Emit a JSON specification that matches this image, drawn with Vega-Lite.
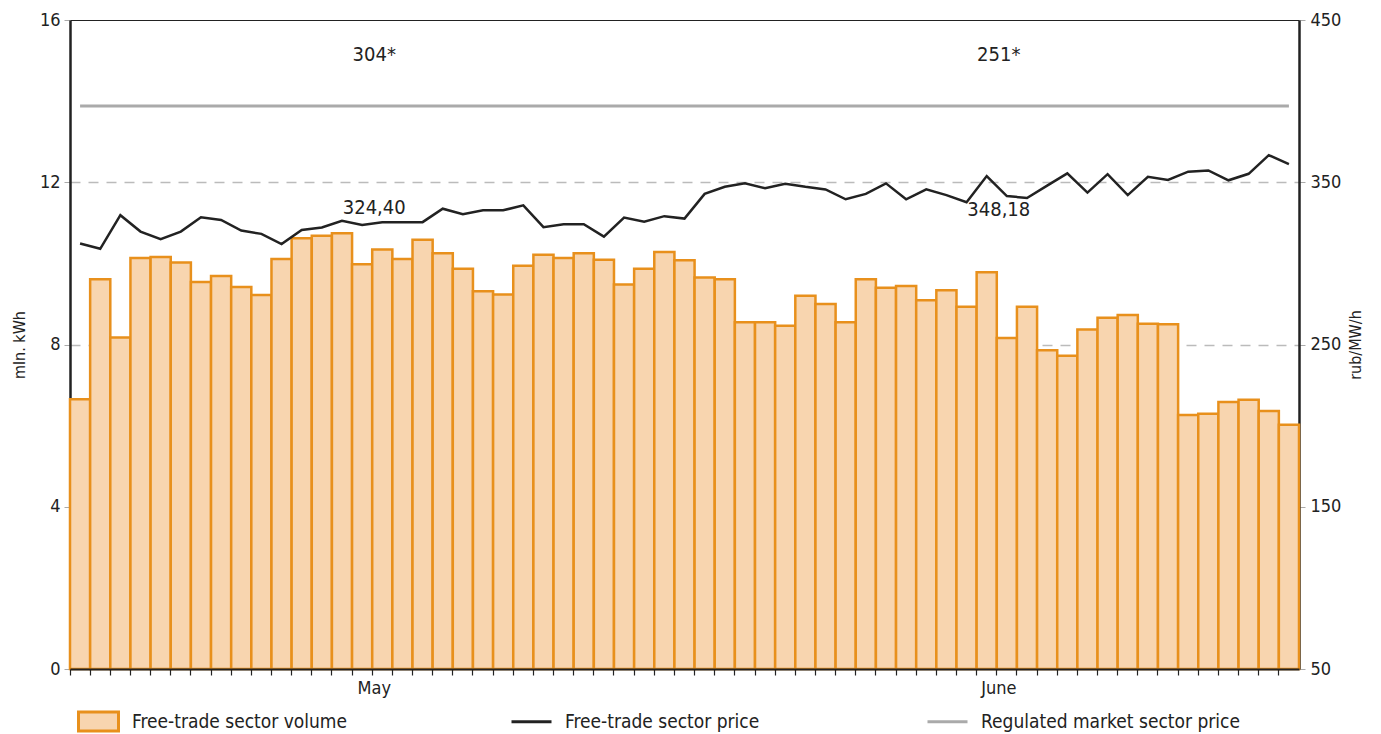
{
  "$schema": "https://vega.github.io/schema/vega-lite/v6.json",
  "autosize": {"type": "none"},
  "padding": {"left": 70, "top": 20, "right": 82, "bottom": 65},
  "width": 1229,
  "height": 649,
  "background": "white",
  "config": {
    "font": "'DejaVu Sans Condensed', 'Liberation Sans Narrow', sans-serif",
    "view": {"stroke": "#222", "strokeWidth": 1},
    "axis": {"labelFont": "'DejaVu Sans Condensed', sans-serif", "titleFont": "'DejaVu Sans Condensed', sans-serif", "labelColor": "#222", "titleColor": "#222", "labelFontSize": 18, "titleFontSize": 16, "titleFontWeight": "normal"},
    "legend": {"labelFont": "'DejaVu Sans Condensed', sans-serif", "labelFontSize": 19, "labelColor": "#222", "labelOffset": 12, "labelLimit": 400, "symbolSize": 1600, "symbolStrokeWidth": 3, "direction": "horizontal", "orient": "none"}
  },
  "datasets": {
    "days": [
      {"date": "05-01", "volume": 6.65, "price": 312.2, "regulated": 397},
      {"date": "05-02", "volume": 9.61, "price": 309.0, "regulated": 397},
      {"date": "05-03", "volume": 8.17, "price": 329.7, "regulated": 397},
      {"date": "05-04", "volume": 10.13, "price": 319.6, "regulated": 397},
      {"date": "05-05", "volume": 10.16, "price": 314.9, "regulated": 397},
      {"date": "05-06", "volume": 10.02, "price": 319.6, "regulated": 397},
      {"date": "05-07", "volume": 9.54, "price": 328.4, "regulated": 397},
      {"date": "05-08", "volume": 9.69, "price": 326.8, "regulated": 397},
      {"date": "05-09", "volume": 9.42, "price": 320.2, "regulated": 397},
      {"date": "05-10", "volume": 9.22, "price": 318.2, "regulated": 397},
      {"date": "05-11", "volume": 10.11, "price": 311.9, "regulated": 397},
      {"date": "05-12", "volume": 10.62, "price": 320.6, "regulated": 397},
      {"date": "05-13", "volume": 10.68, "price": 322.1, "regulated": 397},
      {"date": "05-14", "volume": 10.74, "price": 326.2, "regulated": 397},
      {"date": "05-15", "volume": 9.98, "price": 323.7, "regulated": 397},
      {"date": "05-16", "volume": 10.34, "price": 325.4, "regulated": 397},
      {"date": "05-17", "volume": 10.11, "price": 325.4, "regulated": 397},
      {"date": "05-18", "volume": 10.58, "price": 325.4, "regulated": 397},
      {"date": "05-19", "volume": 10.25, "price": 333.7, "regulated": 397},
      {"date": "05-20", "volume": 9.87, "price": 330.3, "regulated": 397},
      {"date": "05-21", "volume": 9.31, "price": 332.7, "regulated": 397},
      {"date": "05-22", "volume": 9.23, "price": 332.7, "regulated": 397},
      {"date": "05-23", "volume": 9.94, "price": 335.8, "regulated": 397},
      {"date": "05-24", "volume": 10.21, "price": 322.3, "regulated": 397},
      {"date": "05-25", "volume": 10.13, "price": 324.1, "regulated": 397},
      {"date": "05-26", "volume": 10.25, "price": 324.1, "regulated": 397},
      {"date": "05-27", "volume": 10.09, "price": 316.5, "regulated": 397},
      {"date": "05-28", "volume": 9.48, "price": 328.2, "regulated": 397},
      {"date": "05-29", "volume": 9.87, "price": 325.7, "regulated": 397},
      {"date": "05-30", "volume": 10.28, "price": 329.1, "regulated": 397},
      {"date": "05-31", "volume": 10.08, "price": 327.6, "regulated": 397},
      {"date": "06-01", "volume": 9.65, "price": 342.8, "regulated": 397},
      {"date": "06-02", "volume": 9.61, "price": 347.2, "regulated": 397},
      {"date": "06-03", "volume": 8.55, "price": 349.3, "regulated": 397},
      {"date": "06-04", "volume": 8.55, "price": 346.3, "regulated": 397},
      {"date": "06-05", "volume": 8.46, "price": 349.1, "regulated": 397},
      {"date": "06-06", "volume": 9.20, "price": 347.2, "regulated": 397},
      {"date": "06-07", "volume": 9.00, "price": 345.6, "regulated": 397},
      {"date": "06-08", "volume": 8.55, "price": 339.5, "regulated": 397},
      {"date": "06-09", "volume": 9.61, "price": 342.8, "regulated": 397},
      {"date": "06-10", "volume": 9.40, "price": 349.3, "regulated": 397},
      {"date": "06-11", "volume": 9.44, "price": 339.5, "regulated": 397},
      {"date": "06-12", "volume": 9.09, "price": 345.6, "regulated": 397},
      {"date": "06-13", "volume": 9.34, "price": 342.1, "regulated": 397},
      {"date": "06-14", "volume": 8.93, "price": 337.7, "regulated": 397},
      {"date": "06-15", "volume": 9.78, "price": 353.8, "regulated": 397},
      {"date": "06-16", "volume": 8.16, "price": 341.5, "regulated": 397},
      {"date": "06-17", "volume": 8.93, "price": 340.3, "regulated": 397},
      {"date": "06-18", "volume": 7.86, "price": 347.9, "regulated": 397},
      {"date": "06-19", "volume": 7.72, "price": 355.5, "regulated": 397},
      {"date": "06-20", "volume": 8.37, "price": 343.6, "regulated": 397},
      {"date": "06-21", "volume": 8.66, "price": 355.0, "regulated": 397},
      {"date": "06-22", "volume": 8.73, "price": 342.1, "regulated": 397},
      {"date": "06-23", "volume": 8.51, "price": 353.4, "regulated": 397},
      {"date": "06-24", "volume": 8.50, "price": 351.4, "regulated": 397},
      {"date": "06-25", "volume": 6.26, "price": 356.5, "regulated": 397},
      {"date": "06-26", "volume": 6.29, "price": 357.3, "regulated": 397},
      {"date": "06-27", "volume": 6.58, "price": 351.2, "regulated": 397},
      {"date": "06-28", "volume": 6.64, "price": 355.2, "regulated": 397},
      {"date": "06-29", "volume": 6.36, "price": 366.7, "regulated": 397},
      {"date": "06-30", "volume": 6.02, "price": 361.2, "regulated": 397}
    ],
    "months": [
      {"pos": "05-16", "month": "May", "regVolume": "304*", "avgPrice": "324,40", "avgY": 334.1},
      {"pos": "06-16", "month": "June", "regVolume": "251*", "avgPrice": "348,18", "avgY": 332.9}
    ]
  },
  "layer": [
    {
      "layer": [
        {
          "data": {"name": "days"},
          "mark": {"type": "bar", "stroke": "#E8901C", "strokeWidth": 2.5},
          "encoding": {
            "x": {
              "field": "date", "type": "ordinal", "title": null,
              "scale": {"paddingInner": 0, "paddingOuter": 0},
              "axis": {
                "bandPosition": 0, "labelAngle": 0, "labelOverlap": false, "labelOffset": -8,
                "labelExpr": "datum.value == '05-16' ? 'May' : datum.value == '06-16' ? 'June' : ''",
                "tickSize": 6, "tickColor": "#222", "tickWidth": 1.2, "domain": true,
                "domainColor": "#222", "domainWidth": 2, "labelPadding": 4, "grid": false, "zindex": 1
              }
            },
            "y": {
              "field": "volume", "type": "quantitative", "title": "mln. kWh",
              "scale": {"domain": [0, 16], "nice": false},
              "axis": {
                "values": [0, 4, 8, 12, 16], "tickSize": 6, "tickColor": "#aaa",
                "domainColor": "#222", "domainWidth": 2.5, "labelPadding": 4, "titlePadding": 12,
                "grid": true, "gridColor": "#bbb", "gridDash": [10, 8], "gridWidth": 1.5,
                "gridOpacity": {"condition": {"test": "datum.value === 16 || datum.value === 0", "value": 0}, "value": 1}
              }
            },
            "fill": {
              "datum": "Free-trade sector volume",
              "scale": {"domain": ["Free-trade sector volume"], "range": ["#F8D5AF"]},
              "legend": {
                "title": null, "legendX": 7, "legendY": 680,
                "symbolStrokeColor": "#E8901C",
                "encode": {
                  "symbols": {
                    "update": {
                      "shape": {"value": "M-1,-0.47H1V0.47H-1Z"},
                      "stroke": {"value": "#E8901C"},
                      "strokeWidth": {"value": 3},
                      "strokeOpacity": {"value": 1},
                      "fillOpacity": {"value": 1},
                      "opacity": {"value": 1}
                    }
                  }
                }
              }
            }
          }
        },
        {
          "mark": {"type": "rule", "color": "#222", "strokeWidth": 2},
          "encoding": {
            "x": {"datum": "06-01", "type": "ordinal", "bandPosition": 0, "title": null}
          }
        },
        {
          "mark": {"type": "rule", "color": "#222", "strokeWidth": 2.5},
          "encoding": {
            "x": {"datum": "05-01", "type": "ordinal", "bandPosition": 0, "title": null}
          }
        },
        {
          "data": {"name": "months"},
          "mark": {"type": "text", "fontSize": 20, "color": "#222", "baseline": "middle", "align": "center", "dx": 2},
          "encoding": {
            "x": {"field": "pos", "type": "ordinal", "bandPosition": 0, "title": null},
            "y": {"datum": 15.14, "type": "quantitative"},
            "text": {"field": "regVolume"}
          }
        }
      ]
    },
    {
      "layer": [
        {
          "data": {"name": "days"},
          "mark": {"type": "line", "strokeWidth": 3},
          "encoding": {
            "x": {"field": "date", "type": "ordinal", "title": null},
            "y": {
              "field": "regulated", "type": "quantitative", "title": "rub/MW/h",
              "scale": {"domain": [50, 450], "nice": false},
              "axis": {
                "orient": "right", "values": [50, 150, 250, 350, 450], "tickSize": 6, "tickColor": "#aaa",
                "domainColor": "#222", "domainWidth": 2.5, "labelPadding": 5, "titlePadding": 7, "grid": false,
                "titleAngle": -90, "titleBaseline": "top"
              }
            },
            "stroke": {
              "datum": "Regulated market sector price",
              "scale": {"domain": ["Free-trade sector price", "Regulated market sector price"], "range": ["#222222", "#AAAAAA"]},
              "legend": {"title": null, "legendX": 440, "legendY": 680, "columns": 2, "columnPadding": 161, "symbolType": "stroke"}
            }
          }
        },
        {
          "data": {"name": "days"},
          "mark": {"type": "line", "strokeWidth": 2.5},
          "encoding": {
            "x": {"field": "date", "type": "ordinal", "title": null},
            "y": {"field": "price", "type": "quantitative"},
            "stroke": {
              "datum": "Free-trade sector price",
              "legend": {"title": null, "legendX": 440, "legendY": 680, "columns": 2, "columnPadding": 161, "symbolType": "stroke"}
            }
          }
        },
        {
          "data": {"name": "months"},
          "mark": {"type": "text", "fontSize": 20, "color": "#222", "baseline": "middle", "align": "center", "dx": 2},
          "encoding": {
            "x": {"field": "pos", "type": "ordinal", "bandPosition": 0, "title": null},
            "y": {"field": "avgY", "type": "quantitative"},
            "text": {"field": "avgPrice"}
          }
        }
      ]
    }
  ],
  "resolve": {"scale": {"y": "independent"}, "axis": {"y": "independent"}}
}
